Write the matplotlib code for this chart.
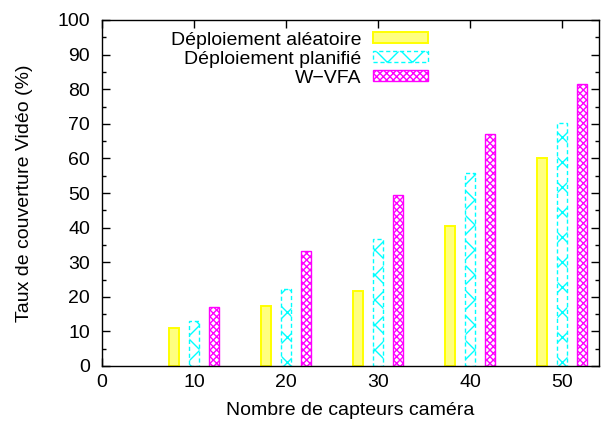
import matplotlib
matplotlib.use("Agg")
import matplotlib.pyplot as plt
import matplotlib.hatch as mhatch
import numpy as np

plt.rcParams['font.family'] = ['Liberation Sans', 'DejaVu Sans']

cameras = [10, 20, 30, 40, 50]
random_deploy = [11.0, 17.3, 21.7, 40.5, 60.2]
planned_deploy = [12.9, 22.2, 36.7, 55.9, 70.1]
wvfa = [17.0, 33.2, 49.4, 67.1, 81.4]
labels = ["Déploiement aléatoire", "Déploiement planifié", "W\u2212VFA"]

# finer hatch spacing for the single-cross pattern
_orig_get_path = mhatch.get_path
def _get_path(hatchpattern, density=6):
    if hatchpattern == 'x':
        density = 8
    return _orig_get_path(hatchpattern, density)
mhatch.get_path = _get_path

W, H = 601, 428
fig = plt.figure(figsize=(W / 100, H / 100), dpi=100)
ax = fig.add_axes([102 / W, (H - 366) / H, 497 / W, 346 / H])

x = np.array(cameras, dtype=float)
off = 2.2
bw = 1.1
plt.rcParams['hatch.linewidth'] = 1.0

ax.bar(x - off, random_deploy, width=bw, color='#ffff80', edgecolor='#ffff00',
       linewidth=1.4, label=labels[0], zorder=2)
ax.bar(x, planned_deploy, width=bw, color='white', edgecolor='#00ffff',
       hatch='x', linewidth=1.0, linestyle=(0, (3, 2)), label=labels[1], zorder=2)
ax.bar(x + off, wvfa, width=bw, color='white', edgecolor='#ff00ff',
       hatch='xxxxx', linewidth=1.0, label=labels[2], zorder=2)

FS = 14
ax.set_xlim(0, 54)
ax.set_ylim(0, 100)
ax.set_xticks([0, 10, 20, 30, 40, 50])
ax.set_yticks(np.arange(0, 101, 10))
ax.set_yticks(np.arange(5, 100, 10), minor=True)

ax.tick_params(axis='both', which='major', direction='in', length=6, width=1,
               top=True, right=True, labelsize=FS, colors='black')
ax.tick_params(axis='y', which='minor', direction='in', length=3, width=1,
               left=True, right=True)
ax.tick_params(axis='y', which='major', pad=8.5)
ax.tick_params(axis='x', which='major', pad=6.0)
for s in ax.spines.values():
    s.set_linewidth(1.0)

ax.set_xlabel("Nombre de capteurs caméra", fontsize=FS, labelpad=7.5)
ax.set_ylabel("Taux de couverture Vidéo (%)", fontsize=FS, labelpad=18)

ax.legend(loc='upper right', bbox_to_anchor=(0.664, 0.977), frameon=False,
          markerfirst=False, fontsize=FS, handlelength=2.85, handleheight=0.5,
          labelspacing=0.1, handletextpad=0.6, borderaxespad=0.0, borderpad=0.2)

fig.savefig("out.png", dpi=100)
